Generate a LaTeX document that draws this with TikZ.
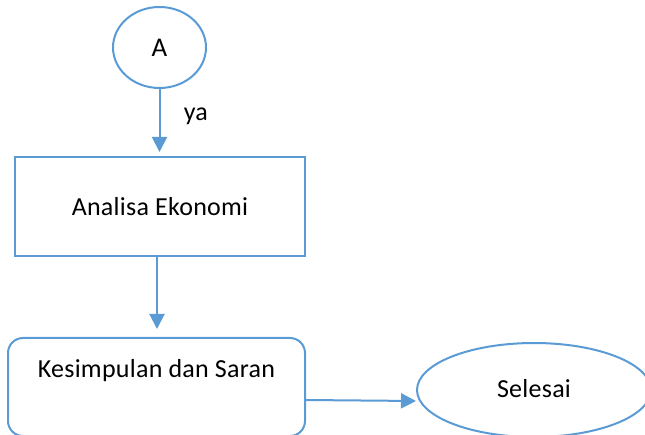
\documentclass[tikz,border=0pt]{standalone}
\usepackage{fontspec}
\setmainfont{Carlito}[LetterSpace=1]
\usetikzlibrary{shapes.geometric,arrows.meta}
\definecolor{lineblue}{HTML}{5B9BD5}
\tikzset{
  txt/.style={font=\fontsize{26}{31}\selectfont},
  shp/.style={draw=lineblue, line width=2pt, fill=white, inner sep=0pt, txt},
  conn/.style={draw=lineblue, line width=2pt, -{Triangle[width=15pt,length=15pt]}},
}
\begin{document}
\begin{tikzpicture}[x=1pt,y=-1pt]
\useasboundingbox (0,0) rectangle (645,435);
\node[shp, ellipse, minimum width=93pt, minimum height=81pt] (a) at (159.5,47.5) {\fontsize{27}{32}\selectfont A};
\node[shp, rectangle, minimum width=290pt, minimum height=99pt] (r) at (160,206.5) {Analisa Ekonomi};
\node[shp, rectangle, rounded corners=15pt, minimum width=297pt, minimum height=98pt,
      label={[txt, yshift=16pt]center:Kesimpulan dan Saran}] (k) at (156.5,387) {};
\node[shp, ellipse, minimum width=234pt, minimum height=94pt] (s) at (534,390) {\raisebox{4pt}{Selesai}};
\draw[conn, shorten >=4pt] (a.south) -- node[pos=0.4, right=20pt, txt] (ya) {ya} (a.south |- r.north);
\draw[conn, shorten >=8pt] ([xshift=-3pt]r.south) -- ([xshift=-3pt]r.south |- k.north);
\draw[conn] ([yshift=-13pt]k.east) -- ([yshift=-11pt]s.west);
\end{tikzpicture}
\end{document}
